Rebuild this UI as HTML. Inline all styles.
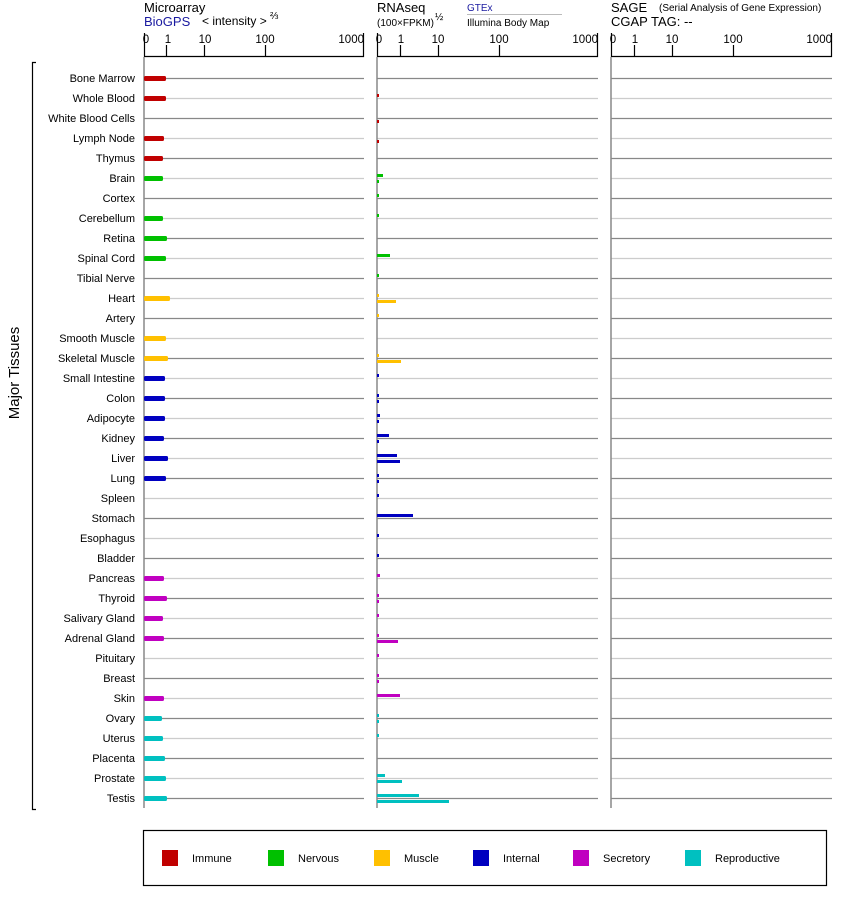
<!DOCTYPE html>
<html><head><meta charset="utf-8"><style>
body{margin:0;background:#fff}
svg{display:block;font-family:"Liberation Sans",Arial,sans-serif}
</style></head><body>
<svg width="842" height="900" viewBox="0 0 842 900" xmlns="http://www.w3.org/2000/svg">
<!-- headers -->
<text x="144" y="12" font-size="13">Microarray</text>
<text x="144" y="26" font-size="13" fill="#1a1aa0">BioGPS</text>
<text x="202" y="25" font-size="12">&lt; intensity &gt;</text>
<text x="270" y="19" font-size="10">⅔</text>
<text x="377" y="12" font-size="13">RNAseq</text>
<text x="377" y="26" font-size="10">(100×FPKM)</text>
<text x="435" y="20" font-size="10">½</text>
<text x="467" y="11" font-size="10" fill="#1a1aa0">GTEx</text>
<line x1="467" y1="14.5" x2="562" y2="14.5" stroke="#bbb" stroke-width="1"/>
<text x="467" y="26" font-size="10">Illumina Body Map</text>
<text x="611" y="12" font-size="13">SAGE</text>
<text x="659" y="11" font-size="10">(Serial Analysis of Gene Expression)</text>
<text x="611" y="26" font-size="13">CGAP TAG:  --</text>

<g font-size="11.5" text-anchor="middle">
<text x="146" y="43">0</text><text x="168" y="43">1</text><text x="205" y="43">10</text><text x="265" y="43">100</text><text x="364" y="43" text-anchor="end">1000</text>
<text x="379" y="43">0</text><text x="401" y="43">1</text><text x="438" y="43">10</text><text x="499" y="43">100</text><text x="598" y="43" text-anchor="end">1000</text>
<text x="613" y="43">0</text><text x="635" y="43">1</text><text x="672" y="43">10</text><text x="733" y="43">100</text><text x="832" y="43" text-anchor="end">1000</text>
</g>
<g stroke="#000" stroke-width="1.2" fill="none">
<path d="M144.5 33V56.5H363.5V33M166.5 45V56.5M204.5 45V56.5M265.5 45V56.5"/>
<path d="M377.5 33V56.5H597.5V33M400.5 45V56.5M438.5 45V56.5M499.5 45V56.5"/>
<path d="M611.5 33V56.5H831.5V33M634.5 45V56.5M672.5 45V56.5M733.5 45V56.5"/>
</g>

<g id="gridlines"></g>
<g stroke="#888" stroke-width="1.5">
<line x1="144" y1="57" x2="144" y2="808"/>
<line x1="377" y1="57" x2="377" y2="808"/>
<line x1="611" y1="57" x2="611" y2="808"/>
</g>

<!-- bracket -->
<path d="M36 62.5H32.5V809.5H36" stroke="#000" fill="none" stroke-width="1.2"/>
<text transform="translate(19 373) rotate(-90)" font-size="15" text-anchor="middle">Major Tissues</text>

<g id="labels" font-size="11" text-anchor="end"></g>
<g id="bars"></g>

<!-- legend -->
<rect x="143.5" y="830.5" width="683" height="55" fill="none" stroke="#000" stroke-width="1.2"/>
<g font-size="11">
<rect x="162" y="850" width="16" height="16" fill="#c00000"/><text x="192" y="862">Immune</text>
<rect x="268" y="850" width="16" height="16" fill="#00c000"/><text x="298" y="862">Nervous</text>
<rect x="374" y="850" width="16" height="16" fill="#ffc000"/><text x="404" y="862">Muscle</text>
<rect x="473" y="850" width="16" height="16" fill="#0000c0"/><text x="503" y="862">Internal</text>
<rect x="573" y="850" width="16" height="16" fill="#c000c0"/><text x="603" y="862">Secretory</text>
<rect x="685" y="850" width="16" height="16" fill="#00c0c0"/><text x="715" y="862">Reproductive</text>
</g>
</svg>
<script>
const NS="http://www.w3.org/2000/svg";
const C={I:"#c00000",N:"#00c000",M:"#ffc000",T:"#0000c0",S:"#c000c0",R:"#00c0c0"};
const rows=[
["Bone Marrow","I",166,0,0],["Whole Blood","I",166,2,0],["White Blood Cells","I",0,0,2],["Lymph Node","I",164,0,2],["Thymus","I",163,0,0],
["Brain","N",163,6,2],["Cortex","N",0,2,0],["Cerebellum","N",163,2,0],["Retina","N",167,0,0],["Spinal Cord","N",166,13,0],["Tibial Nerve","N",0,2,0],
["Heart","M",170,2,19],["Artery","M",0,2,0],["Smooth Muscle","M",166,0,0],["Skeletal Muscle","M",168,2,24],
["Small Intestine","T",165,2,0],["Colon","T",165,2,2],["Adipocyte","T",165,3,2],["Kidney","T",164,12,2],["Liver","T",168,20,23],["Lung","T",166,2,2],["Spleen","T",0,2,0],["Stomach","T",0,36,0],["Esophagus","T",0,2,0],["Bladder","T",0,2,0],
["Pancreas","S",164,3,0],["Thyroid","S",167,2,2],["Salivary Gland","S",163,2,0],["Adrenal Gland","S",164,2,21],["Pituitary","S",0,2,0],["Breast","S",0,2,2],["Skin","S",164,23,0],
["Ovary","R",162,2,2],["Uterus","R",163,2,0],["Placenta","R",165,0,0],["Prostate","R",166,8,25],["Testis","R",167,42,72]];
const g=document.getElementById("gridlines"),L=document.getElementById("labels"),B=document.getElementById("bars");
function el(t,a,p){const e=document.createElementNS(NS,t);for(const k in a)e.setAttribute(k,a[k]);p.appendChild(e);return e;}
rows.forEach((r,i)=>{
 const y=78+20*i, col=i%2?"#cccccc":"#888888";
 [[144,364],[377,598],[611,832]].forEach(([a,b])=>el("line",{x1:a,x2:b,y1:y+.5,y2:y+.5,stroke:col,"stroke-width":1.2},g));
 const t=el("text",{x:135,y:y+4},L);t.textContent=r[0];
 const c=C[r[1]];
 if(r[2]) el("rect",{x:144,y:y-2,width:r[2]-144,height:5,rx:1.5,fill:c},B);
 if(r[3]) el("rect",{x:377,y:y-4,width:r[3],height:3,fill:c},B);
 if(r[4]) el("rect",{x:377,y:y+2,width:r[4],height:3,fill:c},B);
});
</script>
</body></html>
